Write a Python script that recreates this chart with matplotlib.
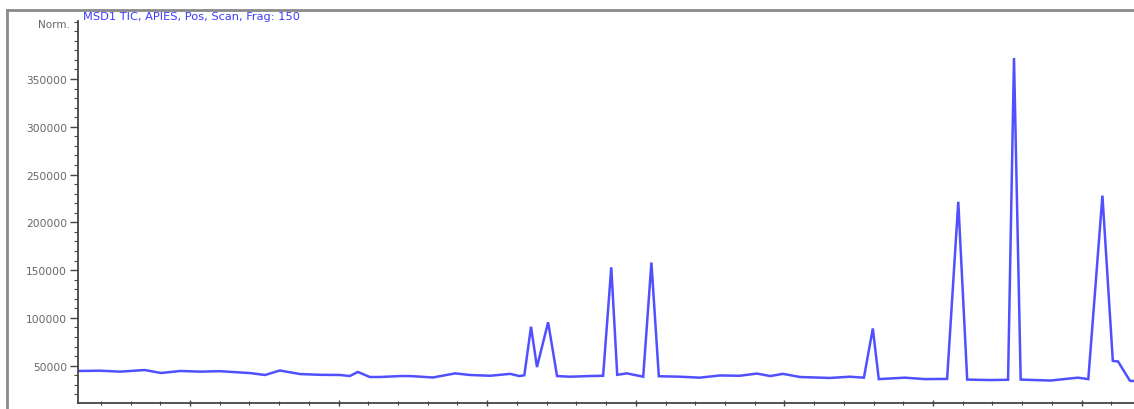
import matplotlib
matplotlib.use("Agg")
import matplotlib.pyplot as plt
from matplotlib.lines import Line2D
from matplotlib.ticker import MultipleLocator, FixedLocator

# Retention time (min) and normalized TIC intensity
time_min = [0.493, 0.79, 1.06, 1.39, 1.61, 1.87, 2.14, 2.40, 2.81, 3.01, 3.21,
            3.48, 3.75, 4.02, 4.15, 4.26, 4.42, 4.56, 4.83, 4.96, 5.27, 5.57,
            5.77, 6.04, 6.31, 6.43, 6.50, 6.59, 6.67, 6.82, 6.94, 7.11, 7.38,
            7.56, 7.67, 7.75, 7.88, 8.10, 8.21, 8.31, 8.60, 8.86, 9.13, 9.40,
            9.63, 9.81, 9.98, 10.21, 10.61, 10.88, 11.07, 11.19, 11.27, 11.62,
            11.89, 12.19, 12.34, 12.46, 12.77, 13.01, 13.09, 13.18, 13.58,
            13.95, 14.09, 14.28, 14.42, 14.49, 14.65, 14.70]
intensity = [44500, 44800, 43800, 45500, 42400, 44500, 43800, 44300, 42300,
             40300, 45000, 41300, 40500, 40300, 39200, 43500, 38200, 38200,
             39200, 39200, 37700, 42000, 40300, 39500, 41500, 39200, 40000,
             90800, 48600, 95500, 39200, 38500, 39200, 39500, 153000, 40500,
             42000, 38500, 158000, 39000, 38500, 37500, 39800, 39500, 41800,
             39200, 41500, 38200, 37200, 38500, 37500, 89000, 36000, 37500,
             36000, 36200, 221500, 35500, 35000, 35300, 372000, 35500, 34500,
             37500, 36000, 228000, 55000, 54500, 34300, 34000]

y_ticks = [50000, 100000, 150000, 200000, 250000, 300000, 350000]
y_tick_labels = ["50000", "100000", "150000", "200000", "250000", "300000", "350000"]
x_ticks = [2, 4, 6, 8, 10, 12, 14]
title_text = "MSD1 TIC, APIES, Pos, Scan, Frag: 150"
y_unit = "Norm."

W, H = 1134, 410
fig = plt.figure(figsize=(W / 100, H / 100), dpi=100)
fig.patch.set_facecolor("white")

ax_left, ax_right = 78, 1134
ax_top, ax_bottom = 21.7, 404
ax = fig.add_axes([ax_left / W, (H - ax_bottom) / H,
                   (ax_right - ax_left) / W, (ax_bottom - ax_top) / H])

ax.plot(time_min, intensity, color="#5050ff", lw=1.8, solid_joinstyle="miter")

ax.set_xlim(0.493, 14.705)
ax.set_ylim(11000, 411000)

ax.yaxis.set_major_locator(FixedLocator(y_ticks))
ax.set_yticklabels(y_tick_labels)
ax.yaxis.set_minor_locator(MultipleLocator(10000))
ax.xaxis.set_major_locator(FixedLocator(x_ticks))
ax.xaxis.set_minor_locator(MultipleLocator(0.4))

spine_color = "#444444"
for s in ("top", "right"):
    ax.spines[s].set_visible(False)
for s in ("left", "bottom"):
    ax.spines[s].set_color(spine_color)
    ax.spines[s].set_linewidth(1.3)

ax.tick_params(axis="y", which="major", direction="out", length=6, width=1,
               color=spine_color, labelsize=7.7, labelcolor="#666666", pad=2)
ax.tick_params(axis="y", which="minor", direction="out", length=3, width=0.8,
               color=spine_color)
ax.tick_params(axis="x", which="major", direction="inout", length=5, width=1,
               color=spine_color, labelsize=7.7, labelcolor="#666666", pad=1)
ax.tick_params(axis="x", which="minor", direction="inout", length=3, width=0.8,
               color=spine_color)

# y unit label
fig.text(70 / W, 1 - 25 / H, y_unit, ha="right", va="center", fontsize=7.5,
         color="#666666")
# title
fig.text(83 / W, 1 - 16.5 / H, title_text, ha="left", va="center", fontsize=8.2,
         color="#3a3aff")

# outer frame (left and top border)
fig.add_artist(Line2D([7 / W, 7 / W], [0, 1 - 11 / H], transform=fig.transFigure,
                      color="#8a8a8a", lw=2))
fig.add_artist(Line2D([7 / W, 1.0], [1 - 11 / H, 1 - 11 / H], transform=fig.transFigure,
                      color="#8a8a8a", lw=2))

fig.savefig("out.png", dpi=100, facecolor="white")
